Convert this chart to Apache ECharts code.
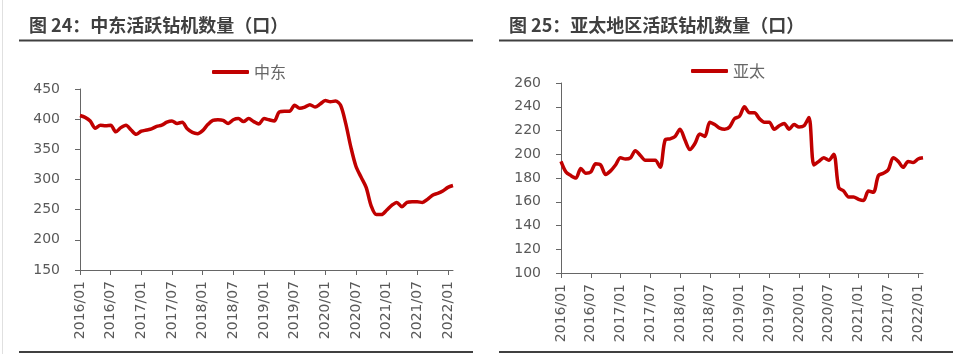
<!DOCTYPE html>
<html>
<head>
<meta charset="utf-8">
<script src="https://cdn.jsdelivr.net/npm/echarts@6/dist/echarts.min.js"></script>
<style>
html,body{margin:0;padding:0;background:#fff;}
#chart{width:955px;height:354px;}
</style>
</head>
<body>
<div id="chart"></div>
<script>
// 月份 2016/01 - 2022/02
var months = [];
for (var y = 2016; y <= 2022; y++) {
  for (var m = 1; m <= 12; m++) {
    if (y == 2022 && m > 2) break;
    months.push(y + '/' + (m < 10 ? '0' + m : m));
  }
}

// 中东活跃钻机数量
var middleEast = [406,403,397,385,390,389,390,379,386,390,
  382,375,380,382,384,388,390,395,397,393,
  395,384,378,376,381,391,398,399,398,393,
  399,401,396,401,396,392,401,399,397,412,
  413,413,423,418,420,424,420,425,431,429,
  430,423,393,354,322,304,287,256,242,242,
  249,257,262,255,262,263,263,262,267,274,
  277,281,287,290];

// 亚太活跃钻机数量
var asiaPacific = [194,185,182,180,188,184,185,192,191,183,
  186,191,197,196,197,203,199,195,195,195,
  189,212,213,215,221,212,204,209,217,215,
  227,225,222,221,223,230,232,240,235,235,
  230,227,227,221,224,226,221,225,223,224,
  231,191,194,197,195,200,172,169,164,164,
  162,161,169,168,182,184,187,197,194,189,
  194,193,196,197];

var titles = ['图 24：中东活跃钻机数量（口）', '图 25：亚太地区活跃钻机数量（口）'];
var names = ['中东', '亚太'];

var axisColor = '#666666';
var labelColor = '#595959';
var lineColor = '#C00000';

function xAxisOf(idx) {
  return {
    type: 'category',
    gridIndex: idx,
    data: months,
    boundaryGap: false,
    axisLine: {lineStyle: {color: axisColor, width: 1}},
    axisTick: {interval: 5, length: 5, lineStyle: {color: axisColor}},
    axisLabel: {
      interval: 5, rotate: 90, margin: 11,
      color: labelColor, fontSize: 14, fontFamily: 'DejaVu Sans',
      padding: [8, 0, 0, 0]
    },
    splitLine: {show: false}
  };
}

function yAxisOf(idx, min, max, step) {
  return {
    type: 'value',
    gridIndex: idx,
    min: min, max: max, interval: step,
    axisLine: {show: true, lineStyle: {color: axisColor, width: 1}},
    axisTick: {show: true, length: 5, lineStyle: {color: axisColor}},
    axisLabel: {margin: 20, color: labelColor, fontSize: 14, fontFamily: 'DejaVu Sans'},
    splitLine: {show: false}
  };
}

var chart = echarts.init(document.getElementById('chart'));

var option = {
  backgroundColor: '#fff',
  animation: false,
  grid: [
    {left: 80, top: 89, width: 373, height: 181},
    {left: 561, top: 83, width: 362, height: 190}
  ],
  legend: [
    {data: [names[0]], left: 212, top: 64, padding: 0, icon: 'roundRect', itemWidth: 37, itemHeight: 4,
     textStyle: {color: '#666', fontSize: 16, fontFamily: 'Noto Sans CJK SC'}},
    {data: [names[1]], left: 691, top: 63, padding: 0, icon: 'roundRect', itemWidth: 37, itemHeight: 4,
     textStyle: {color: '#666', fontSize: 16, fontFamily: 'Noto Sans CJK SC'}}
  ],
  xAxis: [xAxisOf(0), xAxisOf(1)],
  yAxis: [yAxisOf(0, 150, 450, 50), yAxisOf(1, 100, 260, 20)],
  series: [
    {name: names[0], type: 'line', xAxisIndex: 0, yAxisIndex: 0, data: middleEast,
     smooth: 0.3, symbol: 'none', itemStyle: {color: lineColor},
     lineStyle: {color: lineColor, width: 3.5}},
    {name: names[1], type: 'line', xAxisIndex: 1, yAxisIndex: 1, data: asiaPacific,
     smooth: 0.3, symbol: 'none', itemStyle: {color: lineColor},
     lineStyle: {color: lineColor, width: 3.5}}
  ],
  graphic: [
    {type: 'line', shape: {x1: 2.5, y1: 0, x2: 2.5, y2: 354}, style: {stroke: '#e0e0e0', lineWidth: 1}},
    {type: 'text', left: 29, top: 16,
     style: {text: titles[0], fill: '#404040', fontSize: 18, fontWeight: 'bold', fontFamily: 'Noto Sans CJK SC'}},
    {type: 'text', left: 509, top: 16,
     style: {text: titles[1], fill: '#404040', fontSize: 18, fontWeight: 'bold', fontFamily: 'Noto Sans CJK SC'}},
    {type: 'line', shape: {x1: 19, y1: 40.5, x2: 473, y2: 40.5}, style: {stroke: '#404040', lineWidth: 2}},
    {type: 'line', shape: {x1: 499, y1: 40.5, x2: 953, y2: 40.5}, style: {stroke: '#404040', lineWidth: 2}},
    {type: 'line', shape: {x1: 19, y1: 352, x2: 473, y2: 352}, style: {stroke: '#404040', lineWidth: 2}},
    {type: 'line', shape: {x1: 499, y1: 352, x2: 953, y2: 352}, style: {stroke: '#404040', lineWidth: 2}}
  ]
};

chart.setOption(option);
</script>
</body>
</html>
